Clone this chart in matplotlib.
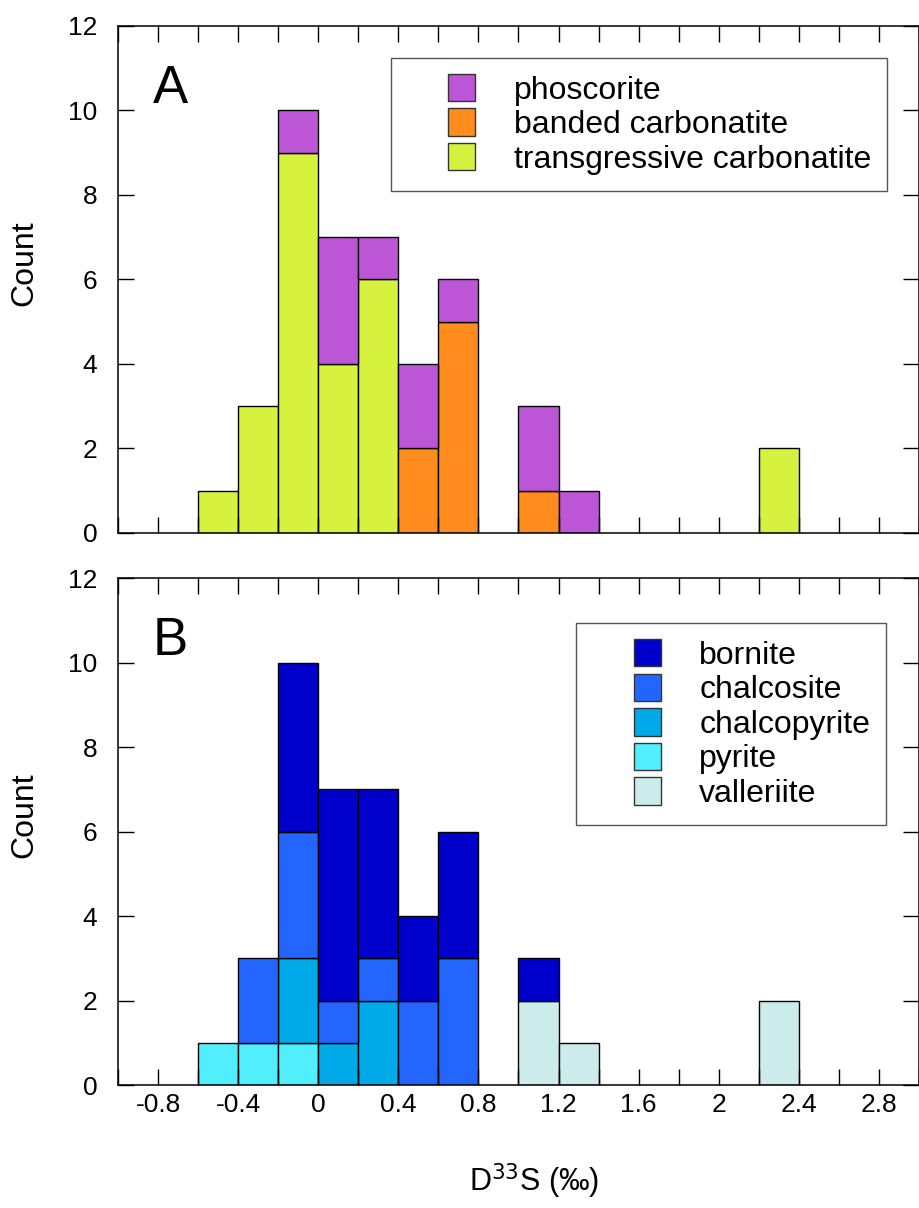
import numpy as np
import matplotlib
matplotlib.use("Agg")
import matplotlib.pyplot as plt
from matplotlib.patches import Patch, Rectangle
from matplotlib.legend_handler import HandlerPatch

plt.rcParams['font.family'] = ['Liberation Sans', 'DejaVu Sans']

# left edges of the 0.2 permil bins
bin_left = [-0.6, -0.4, -0.2, 0.0, 0.2, 0.4, 0.6, 0.8, 1.0, 1.2, 1.4, 1.6, 1.8, 2.0, 2.2]
bin_width = 0.2

# panel A, stacked bottom -> top
transgressive = [1, 3, 9, 4, 6, 0, 0, 0, 0, 0, 0, 0, 0, 0, 2]
banded = [0, 0, 0, 0, 0, 2, 5, 0, 1, 0, 0, 0, 0, 0, 0]
phoscorite = [0, 0, 1, 3, 1, 2, 1, 0, 2, 1, 0, 0, 0, 0, 0]

# panel B, stacked bottom -> top
valleriite = [0, 0, 0, 0, 0, 0, 0, 0, 2, 1, 0, 0, 0, 0, 2]
pyrite = [1, 1, 1, 0, 0, 0, 0, 0, 0, 0, 0, 0, 0, 0, 0]
chalcopyrite = [0, 0, 2, 1, 2, 0, 0, 0, 0, 0, 0, 0, 0, 0, 0]
chalcosite = [0, 2, 3, 1, 1, 2, 3, 0, 0, 0, 0, 0, 0, 0, 0]
bornite = [0, 0, 4, 5, 4, 2, 3, 0, 1, 0, 0, 0, 0, 0, 0]

x_ticks = [-0.8, -0.4, 0, 0.4, 0.8, 1.2, 1.6, 2, 2.4, 2.8]
x_tick_labels = ['-0.8', '-0.4', '0', '0.4', '0.8', '1.2', '1.6', '2', '2.4', '2.8']
y_ticks = [0, 2, 4, 6, 8, 10, 12]

panel_a = [('transgressive carbonatite', transgressive, '#D7F23E'),
           ('banded carbonatite', banded, '#FF8C1C'),
           ('phoscorite', phoscorite, '#BC55D6')]
panel_b = [('valleriite', valleriite, '#CCECEC'),
           ('pyrite', pyrite, '#50EEFF'),
           ('chalcopyrite', chalcopyrite, '#00AAE8'),
           ('chalcosite', chalcosite, '#2266FF'),
           ('bornite', bornite, '#0000CC')]


def square_right(legend, orig_handle, xdescent, ydescent, width, height, fontsize):
    # square swatch pushed to the right end of a wide handle box
    return Rectangle((-xdescent + width - height, -ydescent), height, height)


def draw_panel(ax, series, letter, legend_anchor):
    x = np.array(bin_left)
    bottom = np.zeros(len(x))
    for name, counts, color in series:
        c = np.array(counts, dtype=float)
        m = c > 0
        ax.bar(x[m], c[m], width=bin_width, bottom=bottom[m], align='edge',
               color=color, edgecolor='black', linewidth=1.0)
        bottom += c

    ax.set_xlim(-1.0, 3.0)
    ax.set_ylim(0, 12)
    ax.set_xticks(x_ticks)
    ax.set_xticks(np.arange(-1.0, 3.01, 0.2), minor=True)
    ax.set_yticks(y_ticks)
    ax.tick_params(which='both', direction='in', top=True, right=True,
                   length=11.5, width=1.0, labelsize=19)
    ax.tick_params(axis='x', pad=6)
    ax.tick_params(axis='y', pad=15)
    ax.set_ylabel('Count', fontsize=23)
    ax.yaxis.set_label_coords(-0.098, 0.532)
    for s in ax.spines.values():
        s.set_linewidth(1.1)

    ax.text(0.065, 0.876, letter, transform=ax.transAxes, fontsize=38,
            ha='center', va='center')

    handles = [Patch(facecolor=c, edgecolor='#333333', linewidth=1.0, label=n)
               for n, _, c in series[::-1]]
    leg = ax.legend(handles=handles, loc='upper right', bbox_to_anchor=legend_anchor,
                    handler_map={Patch: HandlerPatch(patch_func=square_right)},
                    fontsize=23, frameon=True, fancybox=False, edgecolor='#555555',
                    handlelength=2.15, handleheight=0.94, handletextpad=1.2,
                    labelspacing=0.09, borderpad=0.5, borderaxespad=0,
                    framealpha=1)
    leg.get_frame().set_linewidth(1.0)


fig = plt.figure(figsize=(9.19, 12.08), dpi=100)
ax_a = fig.add_axes([0.1284, 0.5588, 0.8716, 0.4197])
ax_b = fig.add_axes([0.1284, 0.1018, 0.8716, 0.4197])

draw_panel(ax_a, panel_a, 'A', (0.960, 0.937))
draw_panel(ax_b, panel_b, 'B', (0.959, 0.911))

ax_a.set_xticklabels([])
ax_b.set_xticklabels(x_tick_labels)
ax_b.set_xlabel('D$^{33}$S (‰)', fontsize=22)
ax_b.xaxis.set_label_coords(0.519, -0.150)

fig.savefig('out.png', dpi=100)
